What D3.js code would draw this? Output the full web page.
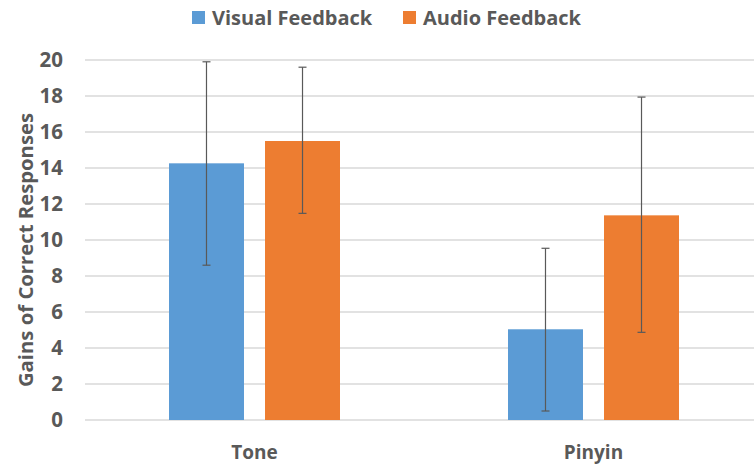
<!DOCTYPE html>
<html><head><meta charset="utf-8">
<script src="https://cdn.jsdelivr.net/npm/d3@7"></script>
<style>body{margin:0;background:#fff}svg{display:block}text{font-family:"Open Sans",Lato,sans-serif;font-weight:700;fill:#595959}</style>
</head><body>
<svg id="c" width="754" height="466"></svg>
<script>
const categories = ["Tone", "Pinyin"];
const seriesNames = ["Visual Feedback", "Audio Feedback"];
const visualValues = [14.26, 5.04];
const audioValues = [15.5, 11.37];
const visualErrLow = [8.6, 0.5];
const visualErrHigh = [19.9, 9.54];
const audioErrLow = [11.48, 4.87];
const audioErrHigh = [19.6, 17.94];
const yTicks = [0, 2, 4, 6, 8, 10, 12, 14, 16, 18, 20];
const colors = ["#5B9BD5", "#ED7D31"];

const svg = d3.select("#c");
const W = 754;
const y = d3.scaleLinear().domain([0, 20]).range([420, 60]);
const x0 = d3.scaleBand().domain(categories).range([85, 763]).paddingInner(0).paddingOuter(0);
const x1 = d3.scaleBand().domain(seriesNames).range([84, 255]).paddingInner(0.219).paddingOuter(0);

// gridlines
svg.append("g").selectAll("line").data(yTicks).join("line")
  .attr("x1", 85).attr("x2", W)
  .attr("y1", d => y(d)).attr("y2", d => y(d))
  .attr("stroke", "#d9d9d9").attr("stroke-width", 1.3);

// y axis labels
svg.append("g").selectAll("text").data(yTicks).join("text")
  .attr("x", 63).attr("y", d => y(d)).attr("dy", "0.36em")
  .attr("text-anchor", "end").attr("font-size", 20.5).text(d => d);

// axis title
svg.append("text").attr("transform", "translate(26,250) rotate(-90)")
  .attr("text-anchor", "middle").attr("dy", "0.36em").attr("font-size", 20.3)
  .text("Gains of Correct Responses");

const data = categories.map((c, i) => ({
  cat: c,
  vals: [
    {s: seriesNames[0], v: visualValues[i], lo: visualErrLow[i], hi: visualErrHigh[i], color: colors[0]},
    {s: seriesNames[1], v: audioValues[i], lo: audioErrLow[i], hi: audioErrHigh[i], color: colors[1]}
  ]
}));

const g = svg.append("g").selectAll("g").data(data).join("g")
  .attr("transform", d => `translate(${x0(d.cat)},0)`);
g.selectAll("rect").data(d => d.vals).join("rect")
  .attr("x", d => x1(d.s)).attr("width", x1.bandwidth())
  .attr("y", d => y(d.v)).attr("height", d => y(0) - y(d.v))
  .attr("fill", d => d.color);

const cx = d => x1(d.s) + x1.bandwidth()/2;
const eb = g.selectAll("g.eb").data(d => d.vals).join("g").attr("class", "eb")
  .attr("stroke", "#595959").attr("stroke-width", 1.2);
eb.append("line").attr("x1", cx).attr("x2", cx)
  .attr("y1", d => y(d.lo)).attr("y2", d => y(d.hi));
eb.append("line").attr("x1", d => cx(d) - 4).attr("x2", d => cx(d) + 4)
  .attr("y1", d => y(d.lo)).attr("y2", d => y(d.lo));
eb.append("line").attr("x1", d => cx(d) - 4).attr("x2", d => cx(d) + 4)
  .attr("y1", d => y(d.hi)).attr("y2", d => y(d.hi));

// category labels
svg.append("g").selectAll("text").data(categories).join("text")
  .attr("x", d => x0(d) + x0.bandwidth()/2).attr("y", 459)
  .attr("text-anchor", "middle").attr("font-size", 19).text(d => d);

// legend
const legendX = [192, 403];
const lg = svg.append("g").selectAll("g").data(seriesNames).join("g")
  .attr("transform", (d, i) => `translate(${legendX[i]},11)`);
lg.append("rect").attr("width", 13).attr("height", 13).attr("fill", (d, i) => colors[i]);
lg.append("text").attr("x", 20).attr("y", 7).attr("dy", "0.36em").attr("font-size", 20).text(d => d);
</script>
</body></html>
